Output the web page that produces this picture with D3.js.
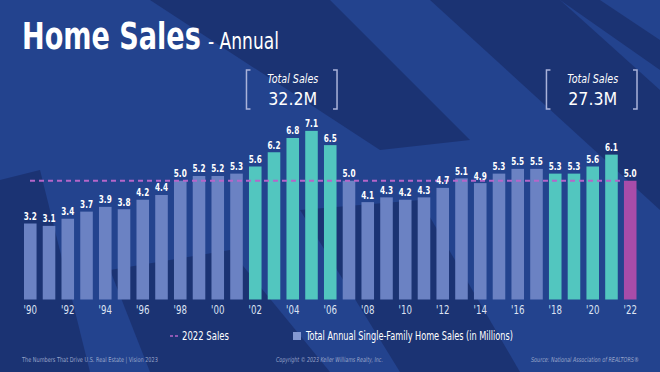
<!DOCTYPE html>
<html>
<head>
<meta charset="utf-8">
<script src="https://cdn.jsdelivr.net/npm/d3@7"></script>
<style>
  body { margin:0; background:#21408a; }
  svg text { font-family:"Liberation Sans Narrow","DejaVu Sans Condensed","Roboto",sans-serif; }
</style>
</head>
<body>
<div id="canvas"></div>
<script>
// chart data
var years = ["1990","1991","1992","1993","1994","1995","1996","1997","1998","1999",
             "2000","2001","2002","2003","2004","2005","2006","2007","2008","2009",
             "2010","2011","2012","2013","2014","2015","2016","2017","2018","2019",
             "2020","2021","2022"];
var sales = [3.2,3.1,3.4,3.7,3.9,3.8,4.2,4.4,5.0,5.2,
             5.2,5.3,5.6,6.2,6.8,7.1,6.5,5.0,4.1,4.3,
             4.2,4.3,4.7,5.1,4.9,5.3,5.5,5.5,5.3,5.3,
             5.6,6.1,5.0];
var peakYears = ["2002","2003","2004","2005","2006"];
var recentYears = ["2018","2019","2020","2021","2022"];
var currentYear = "2022";
var tickYears = ["1990","1992","1994","1996","1998","2000","2002","2004","2006","2008","2010",
                 "2012","2014","2016","2018","2020","2022"];
var legendLabels = ["2022 Sales","Total Annual Single-Family Home Sales (in Millions)"];
var footerTexts = ["The Numbers That Drive U.S. Real Estate  |  Vision 2023",
                   "Copyright © 2023 Keller Williams Realty, Inc.",
                   "Source: National Association of REALTORS®"];

var W = 660, H = 372;
var baseY = 299.5, unit = 23.75;

var svg = d3.select('#canvas').append('svg')
    .attr('width', W).attr('height', H);

// squeeze text horizontally about its x anchor (no narrow font installed)
function squeeze(sel, sx){
  sel.each(function(){
    var t = d3.select(this), x0 = +t.attr('x') || 0;
    var k = typeof sx === 'number' ? sx : sx / this.getComputedTextLength();
    t.attr('transform', 'translate(' + x0 + ',0) scale(' + k + ',1) translate(' + (-x0) + ',0)');
  });
}
function fitTo(sel, width){
  sel.each(function(){
    var k = width / this.getComputedTextLength();
    squeeze(d3.select(this), k);
  });
}

// background with brush strokes
svg.append('rect').attr('width', W).attr('height', H).style('fill', '#23438e');
var strokes = [
  [[150,0],[330,0],[470,140],[380,150]],
  [[430,0],[560,0],[660,90],[660,210]],
  [[0,180],[40,170],[90,372],[0,372]],
  [[110,270],[230,250],[330,372],[150,372]],
  [[560,0],[600,0],[660,40],[660,70]],
  [[300,210],[420,200],[520,372],[400,372]]
];
svg.selectAll('.stroke').data(strokes).enter().append('polygon')
    .attr('points', function(d){ return d.map(function(p){ return p.join(','); }).join(' '); })
    .style('fill', '#1a2e69').style('opacity', 0.75);

var x = d3.scaleBand().domain(years).range([20.9, 639.6])
    .paddingInner(0.33).paddingOuter(0.165);
var y = d3.scaleLinear().domain([0, 1]).range([baseY, baseY - unit]);

function barColor(yr){
  if (yr === currentYear) return '#a84ca9';
  if (peakYears.indexOf(yr) >= 0 || recentYears.indexOf(yr) >= 0) return '#52c6bf';
  return '#6b82c3';
}

var chart = svg.append('g');

chart.selectAll('.bar').data(years).enter().append('rect')
    .attr('x', function(d){ return x(d); })
    .attr('y', function(d,i){ return y(sales[i]); })
    .attr('width', x.bandwidth())
    .attr('height', function(d,i){ return baseY - y(sales[i]); })
    .style('fill', barColor);

// 2022 reference line
var cur = sales[years.indexOf(currentYear)];
chart.append('line')
    .attr('x1', x(years[0]) + 6).attr('x2', x(currentYear))
    .attr('y1', y(cur)).attr('y2', y(cur))
    .style('stroke', '#b566c9').style('stroke-width', 2)
    .style('stroke-dasharray', '5,4');

// value labels
var vals = chart.selectAll('.val').data(years).enter().append('text')
    .attr('x', function(d){ return x(d) + x.bandwidth()/2; })
    .attr('y', function(d,i){ return y(sales[i]) - 3.5; })
    .attr('text-anchor', 'middle')
    .style('font-size', '11px').style('font-weight', 'bold')
    .style('fill', '#ffffff')
    .text(function(d,i){ return sales[i].toFixed(1); });
squeeze(vals, 0.74);

// x axis
var xAxis = d3.axisBottom(x).tickValues(tickYears).tickSize(0)
    .tickFormat(function(d){ return "'" + d.slice(2); });
var ax = chart.append('g').attr('transform', 'translate(0,' + (baseY + 3) + ')').call(xAxis);
ax.select('.domain').remove();
ax.selectAll('text').style('font-size', '12px').style('fill', '#dde3f3')
    .style('font-family', '"Liberation Sans Narrow","DejaVu Sans Condensed",sans-serif');
squeeze(ax.selectAll('text'), 0.8);

// total sales boxes
function totalBox(group){
  var x0 = x(group[0]) - 2.5, x1 = x(group[group.length-1]) + x.bandwidth() + 0.5;
  var total = d3.sum(group, function(yr){ return sales[years.indexOf(yr)]; });
  var g = svg.append('g');
  var top = 70, bot = 109, tk = 4;
  g.append('path')
    .attr('d', 'M'+(x0+tk)+','+top+'H'+x0+'V'+bot+'H'+(x0+tk)+
               'M'+(x1-tk)+','+top+'H'+x1+'V'+bot+'H'+(x1-tk))
    .style('fill', 'none').style('stroke', '#aab3da').style('stroke-width', 1.5);
  var cx = (x0 + x1)/2 + 1;
  var t1 = g.append('text').attr('x', cx).attr('y', 82.7).attr('text-anchor', 'middle')
    .style('font-size', '12.5px').style('font-style', 'italic').style('fill', '#ffffff')
    .text('Total Sales');
  fitTo(t1, 51);
  var t2 = g.append('text').attr('x', cx).attr('y', 105).attr('text-anchor', 'middle')
    .style('font-size', '17.5px').style('fill', '#ffffff')
    .text(total.toFixed(1) + 'M');
  fitTo(t2, 49);
}
totalBox(peakYears);
totalBox(recentYears);

// title
var t = svg.append('text').attr('x', 22).attr('y', 49)
    .style('font-size', '37px').style('font-weight', 'bold').style('fill', '#ffffff')
    .text('Home Sales');
fitTo(t, 179);
var st = svg.append('text').attr('x', 208).attr('y', 49)
    .style('font-size', '23px').style('fill', '#ffffff')
    .text('- Annual');
fitTo(st, 71);

// legend
var lg = svg.append('g');
lg.append('line').attr('x1', 170).attr('x2', 178).attr('y1', 336).attr('y2', 336)
    .style('stroke', '#b566c9').style('stroke-width', 1.5).style('stroke-dasharray', '3,2');
var l1 = lg.append('text').attr('x', 182).attr('y', 340)
    .style('font-size', '12px').style('fill', '#ffffff').text(legendLabels[0]);
fitTo(l1, 47);
lg.append('rect').attr('x', 293).attr('y', 332).attr('width', 8).attr('height', 8)
    .style('fill', '#8398d2');
var l2 = lg.append('text').attr('x', 306).attr('y', 340)
    .style('font-size', '12px').style('fill', '#ffffff').text(legendLabels[1]);
fitTo(l2, 207);

// footer
var fx = [[22,136,'normal'],[276,107,'italic'],[531,108,'italic']];
var foot = svg.selectAll('.foot').data(footerTexts).enter().append('text')
    .attr('x', function(d,i){ return fx[i][0]; })
    .attr('y', 362)
    .style('font-size', '6.8px')
    .style('font-style', function(d,i){ return fx[i][2]; })
    .style('fill', '#97a3c9')
    .text(function(d){ return d; });
foot.each(function(d,i){ fitTo(d3.select(this), fx[i][1]); });
</script>
</body>
</html>
